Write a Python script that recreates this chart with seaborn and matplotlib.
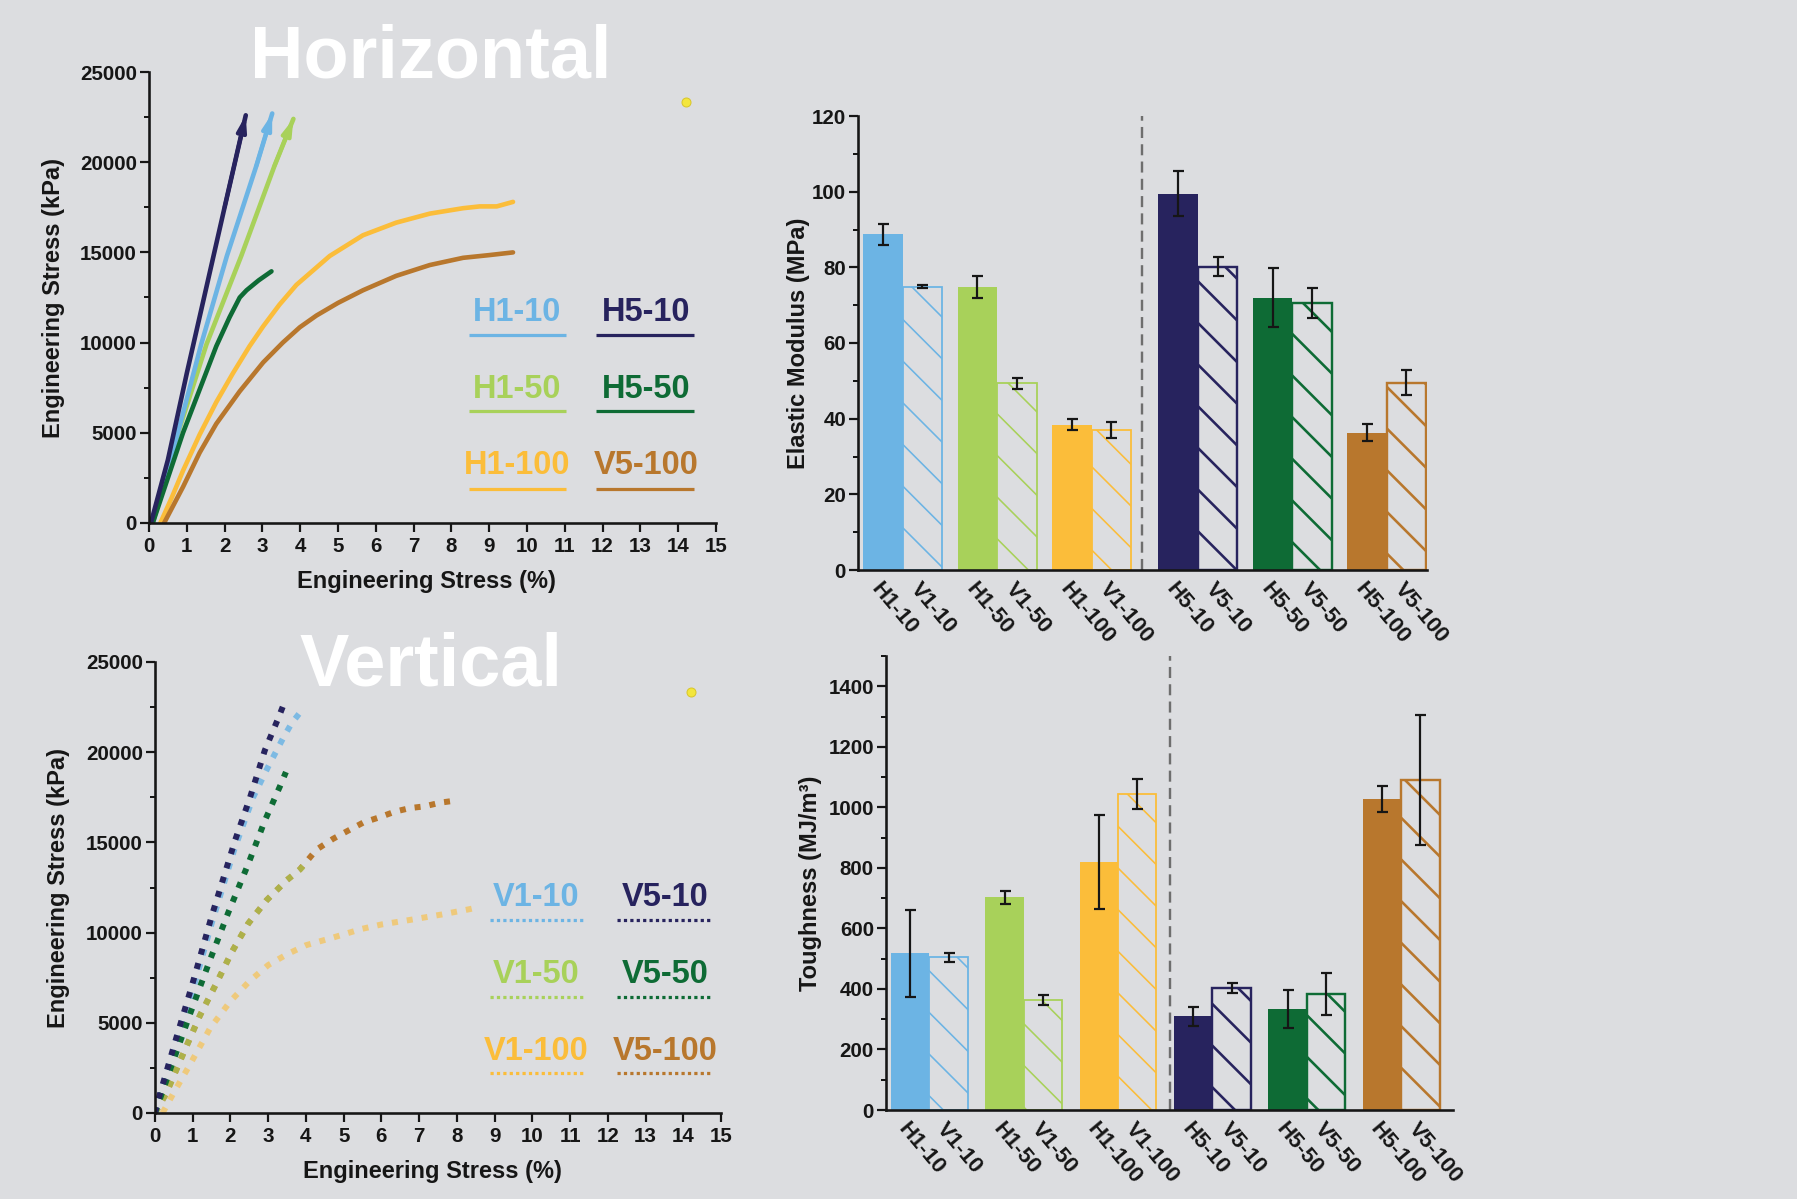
import numpy as np
import pandas as pd
import matplotlib
matplotlib.use("Agg")
import matplotlib.pyplot as plt
from matplotlib.ticker import MultipleLocator
import seaborn as sns

# ---------------------------------------------------------------- data
samples = ["H1-10", "V1-10", "H1-50", "V1-50", "H1-100", "V1-100",
           "H5-10", "V5-10", "H5-50", "V5-50", "H5-100", "V5-100"]

modulus = [88.7, 74.9, 74.7, 49.3, 38.4, 37.0, 99.5, 80.2, 72.0, 70.6, 36.3, 49.5]
modulus_err = [2.7, 0.3, 2.9, 1.5, 1.5, 2.2, 6.0, 2.6, 7.7, 4.0, 2.3, 3.3]

toughness = [518, 505, 703, 363, 820, 1043, 309, 403, 334, 384, 1028, 1089]
toughness_err = [143, 15, 22, 17, 155, 50, 31, 17, 62, 70, 42, 215]

# horizontal prints: strain (%) / stress (kPa)
h1_10_x = [0.10, 0.70, 1.38, 2.06, 2.84, 3.26]
h1_10_y = [0, 4500, 9900, 14800, 19800, 22700]
h5_10_x = [0.05, 0.50, 1.00, 1.50, 2.00, 2.56]
h5_10_y = [0, 3500, 8300, 12900, 17500, 22600]
h1_50_x = [0.10, 0.77, 1.52, 2.44, 3.32, 3.82]
h1_50_y = [0, 5000, 9900, 14800, 19800, 22400]
h5_50_x = [0.10, 0.90, 1.78, 2.13, 2.40, 2.58, 2.90, 3.24]
h5_50_y = [0, 5000, 9800, 11400, 12500, 12900, 13450, 13950]
h1_100_x = [0.30, 0.60, 0.90, 1.34, 1.78, 2.22, 2.66, 3.02, 3.45, 3.90, 4.78,
            5.66, 6.54, 7.43, 8.31, 8.75, 9.20, 9.63]
h1_100_y = [0, 1400, 2900, 4900, 6700, 8300, 9800, 10900, 12100, 13200, 14800,
            15950, 16650, 17150, 17450, 17550, 17550, 17800]
h5_100_x = [0.40, 0.90, 1.34, 1.78, 2.40, 3.02, 3.54, 3.99, 4.43, 5.00, 5.66,
            6.54, 7.43, 8.31, 9.00, 9.63]
h5_100_y = [0, 2000, 3900, 5500, 7300, 8900, 10000, 10850, 11500, 12200, 12900,
            13700, 14300, 14700, 14850, 15000]

# vertical prints
v1_10_x = [0.00, 0.50, 1.00, 1.50, 2.10, 2.60, 3.00, 3.40, 3.62, 3.88]
v1_10_y = [0, 3600, 6800, 10500, 14600, 17500, 19200, 20800, 21600, 22300]
v5_10_x = [0.00, 0.04, 0.57, 0.97, 1.50, 2.12, 2.52, 2.91, 3.27, 3.42]
v5_10_y = [0, 400, 4200, 7000, 10900, 15100, 17500, 20100, 21900, 22700]
v1_50_x = [0.00, 0.30, 0.75, 1.19, 1.63, 2.03, 2.47, 2.96, 3.49, 3.84, 4.05]
v1_50_y = [0, 1100, 3300, 5400, 7200, 8900, 10500, 11800, 12900, 13500, 13900]
v5_50_x = [0.00, 0.40, 0.93, 1.46, 1.94, 2.47, 2.91, 3.31, 3.47]
v5_50_y = [0, 2400, 5500, 8500, 11100, 13800, 16200, 18100, 18900]
v1_100_x = [0.20, 0.49, 0.93, 1.46, 2.00, 2.50, 3.00, 3.50, 4.00, 4.68, 5.47,
            6.00, 6.75, 7.59, 8.34, 8.55]
v1_100_y = [0, 1100, 2700, 4700, 6200, 7300, 8200, 8800, 9300, 9700, 10200,
            10450, 10700, 11000, 11300, 11400]
v5_100_x = [0.00, 0.30, 0.75, 1.19, 1.63, 2.03, 2.47, 2.96, 3.49, 3.84, 4.28,
            4.72, 5.16, 5.52, 5.96, 6.35, 6.75, 7.15, 7.55, 7.90]
v5_100_y = [0, 1100, 3300, 5400, 7200, 8900, 10500, 11800, 12900, 13500, 14600,
            15200, 15700, 16100, 16400, 16700, 16900, 17000, 17200, 17300]

marker_x = [14.21]
marker_y = [23350]

# ---------------------------------------------------------------- style
DPI = 250
W, H = 1797, 1199
BG = "#dcdde0"
INK = "#161616"

C_LBLUE = "#6cb4e4"
C_LGREEN = "#a8d15a"
C_YELLOW = "#fbbd3a"
C_NAVY = "#27235e"
C_DGREEN = "#0e6b35"
C_BROWN = "#b8772d"
pair_colors = [C_LBLUE, C_LGREEN, C_YELLOW, C_NAVY, C_DGREEN, C_BROWN]


def px(v):
    """pixels -> points at the output resolution"""
    return v * 72.0 / DPI


sns.set_theme(style="ticks")
plt.rcParams.update({
    "figure.facecolor": BG,
    "axes.facecolor": BG,
    "savefig.facecolor": BG,
    "font.weight": "bold",
    "axes.labelweight": "bold",
    "hatch.linewidth": px(2.0),
    "lines.solid_capstyle": "round",
})
plt.rcParams["font.family"] = ["Liberation Sans", "DejaVu Sans"]

fig = plt.figure(figsize=(W / DPI, H / DPI), dpi=DPI)


def panel(left, right, top, bottom):
    ax = fig.add_axes([left / W, 1 - bottom / H, (right - left) / W, (bottom - top) / H])
    ax.set_facecolor(BG)
    for s in ("top", "right"):
        ax.spines[s].set_visible(False)
    for s in ("left", "bottom"):
        ax.spines[s].set_linewidth(px(2.6))
        ax.spines[s].set_color(INK)
    ax.tick_params(which="major", direction="out", length=px(9), width=px(2.2),
                   color=INK, labelsize=5.9, labelcolor=INK, pad=px(3))
    ax.tick_params(which="minor", direction="out", length=px(5), width=px(2.0), color=INK)
    return ax


def strain_axes(ax, ylabel_x):
    ax.set_xlim(0, 15)
    ax.set_ylim(0, 25000)
    ax.xaxis.set_major_locator(MultipleLocator(1))
    ax.yaxis.set_major_locator(MultipleLocator(5000))
    ax.yaxis.set_minor_locator(MultipleLocator(2500))
    ax.tick_params(axis="x", pad=px(5))
    ax.set_xlabel("Engineering Stress (%)", fontsize=6.8, color=INK)
    ax.set_ylabel("Engineering Stress (kPa)", fontsize=6.8, color=INK)
    ax.yaxis.set_label_coords(ylabel_x, 0.5)
    ax.xaxis.set_label_coords(0.49, -0.105)
    ax.scatter(marker_x, marker_y, s=px(9) ** 2, color="#f3e63c",
               edgecolor="#d9c62a", linewidth=px(1), zorder=4, clip_on=False)


def key_block(ax, entries, cols_x, line_spans, text_y, line_y, dotted):
    for k, (label, color) in enumerate(entries):
        col, row = k % 2, k // 2
        ax.text(cols_x[col], text_y[row], label, transform=ax.transAxes,
                ha="center", va="baseline", fontsize=9.4, fontweight="bold", color=color)
        ls = (0, (1.0, 1.0)) if dotted else "-"
        ax.plot(line_spans[col], [line_y[row]] * 2, transform=ax.transAxes,
                color=color, lw=px(3.2), ls=ls, solid_capstyle="butt")


def tip_arrow(ax, xs, ys, color, lw):
    """small arrowhead at the break point of a curve"""
    ax.annotate("", xy=(xs[-1], ys[-1]), xytext=(xs[-2], ys[-2]),
                arrowprops=dict(arrowstyle="-|>,head_length=0.3,head_width=0.09",
                                color=color, lw=lw, shrinkA=0, shrinkB=0),
                zorder=3)


# ---------------------------------------------------------------- horizontal
ax1 = panel(149, 716, 72, 523)
solid_curves = [
    (h1_100_x, h1_100_y, C_YELLOW, False),
    (h5_100_x, h5_100_y, C_BROWN, False),
    (h1_50_x, h1_50_y, C_LGREEN, True),
    (h1_10_x, h1_10_y, C_LBLUE, True),
    (h5_50_x, h5_50_y, C_DGREEN, False),
    (h5_10_x, h5_10_y, C_NAVY, True),
]
for xs, ys, color, arrow in solid_curves:
    sns.lineplot(x=xs, y=ys, ax=ax1, color=color, linewidth=px(4.6),
                 sort=False, estimator=None)
    if arrow:
        tip_arrow(ax1, xs, ys, color, px(4.0))
strain_axes(ax1, -0.148)
key_block(ax1,
          [("H1-10", C_LBLUE), ("H5-10", C_NAVY), ("H1-50", C_LGREEN),
           ("H5-50", C_DGREEN), ("H1-100", C_YELLOW), ("V5-100", C_BROWN)],
          cols_x=[0.650, 0.877],
          line_spans=[(0.565, 0.735), (0.789, 0.961)],
          text_y=[0.449, 0.277, 0.108],
          line_y=[0.417, 0.248, 0.076],
          dotted=False)

# ---------------------------------------------------------------- vertical
ax2 = panel(155, 721, 662, 1113)
dash = (0, (1.0, 1.5))
dashed_curves = [
    (v1_100_x, v1_100_y, C_YELLOW, 0.6),
    (v5_100_x, v5_100_y, C_BROWN, 1.0),
    (v1_50_x, v1_50_y, C_LGREEN, 0.65),
    (v1_10_x, v1_10_y, C_LBLUE, 0.85),
    (v5_50_x, v5_50_y, C_DGREEN, 1.0),
    (v5_10_x, v5_10_y, C_NAVY, 1.0),
]
for xs, ys, color, alpha in dashed_curves:
    sns.lineplot(x=xs, y=ys, ax=ax2, color=color, linewidth=px(6.0), alpha=alpha,
                 linestyle=dash, sort=False, estimator=None)
strain_axes(ax2, -0.150)
key_block(ax2,
          [("V1-10", C_LBLUE), ("V5-10", C_NAVY), ("V1-50", C_LGREEN),
           ("V5-50", C_DGREEN), ("V1-100", C_YELLOW), ("V5-100", C_BROWN)],
          cols_x=[0.674, 0.901],
          line_spans=[(0.591, 0.759), (0.816, 0.986)],
          text_y=[0.458, 0.288, 0.118],
          line_y=[0.428, 0.258, 0.089],
          dotted=True)


# ---------------------------------------------------------------- bar panels
def bar_panel(ax, values, errors, centers, sep_x, xmax, ymax, major, minor,
              ylabel, ylabel_x):
    pos = []
    for c in centers:
        pos += [c - 0.5, c + 0.5]
    bar_colors = [c for c in pair_colors for _ in range(2)]
    df = pd.DataFrame({"pos": pos, "value": values, "sample": samples})
    sns.barplot(data=df, x="pos", y="value", hue="sample",
                palette=dict(zip(samples, bar_colors)), native_scale=True,
                dodge=False, width=1.0, saturation=1, errorbar=None,
                legend=False, ax=ax)
    pos_arr = np.array(pos)
    for patch in list(ax.patches):
        cx = patch.get_x() + patch.get_width() / 2
        i = int(np.argmin(np.abs(pos_arr - cx)))
        color = bar_colors[i]
        if samples[i].startswith("V"):
            thin = samples[i].startswith("V1")
            patch.set_facecolor("none")
            patch.set_edgecolor(color)
            patch.set_linewidth(px(1.8) if thin else px(2.4))
            patch.set_hatch("\\\\")
            if hasattr(patch, "set_hatch_linewidth"):
                patch.set_hatch_linewidth(px(1.6) if thin else px(2.6))
        else:
            patch.set_facecolor(color)
            patch.set_edgecolor(color)
            patch.set_linewidth(0)
    ax.errorbar(pos, values, yerr=errors, fmt="none", ecolor=INK,
                elinewidth=px(2.2), capsize=px(5.5), capthick=px(2.2), zorder=5)
    ax.axvline(sep_x, color="#6e6e6e", lw=px(2.4), ls=(0, (4.6, 2.6)), zorder=1)
    ax.set_xlim(0, xmax)
    ax.set_ylim(0, ymax)
    ax.yaxis.set_major_locator(MultipleLocator(major))
    ax.yaxis.set_minor_locator(MultipleLocator(minor))
    ax.set_xticks(pos)
    ax.set_xticklabels(samples, rotation=-50, ha="left", va="top",
                       rotation_mode="anchor", fontsize=6.4)
    ax.tick_params(axis="x", length=0, pad=px(9))
    ax.set_xlabel("")
    ax.set_ylabel(ylabel, fontsize=6.8, color=INK)
    ax.yaxis.set_label_coords(ylabel_x, 0.5)


ax3 = panel(858, 1427, 116, 570)
mod_centers = [1.13 + 2.39 * i + (0.30 if i >= 3 else 0.0) for i in range(6)]
bar_panel(ax3, modulus, modulus_err, mod_centers, 7.19, 14.4, 120, 20, 10,
          "Elastic Modulus (MPa)", -0.085)

ax4 = panel(886, 1453, 656, 1110)
tough_centers = [1.13 + 2.46 * i for i in range(6)]
bar_panel(ax4, toughness, toughness_err, tough_centers, 7.40, 14.78, 1500, 200, 100,
          "Toughness (MJ/m³)", -0.113)

# ---------------------------------------------------------------- headings
fig.text(431 / W, 1 - 78 / H, "Horizontal", color="white", fontsize=21.3,
         fontweight="bold", ha="center", va="baseline", zorder=10)
fig.text(431 / W, 1 - 685 / H, "Vertical", color="white", fontsize=21.3,
         fontweight="bold", ha="center", va="baseline", zorder=10)

fig.savefig("out.png", dpi=DPI, facecolor=BG)
